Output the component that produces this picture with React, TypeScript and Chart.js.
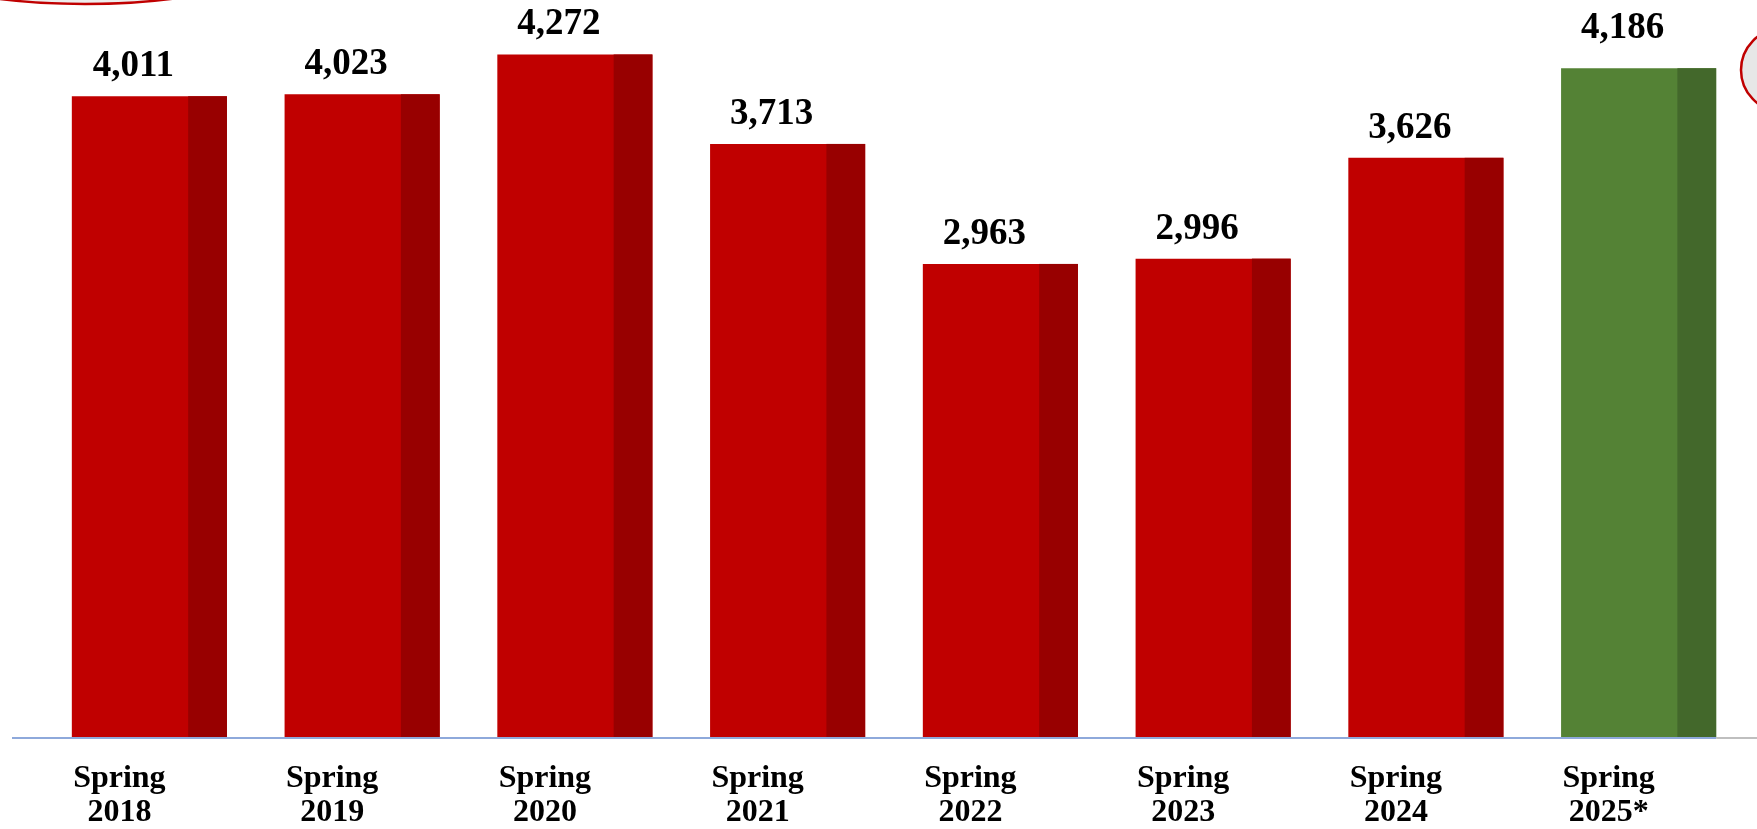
import React, { useEffect, useRef } from "react";
import { Chart, registerables } from "chart.js";

Chart.register(...registerables);

const term = "Spring";
const years = ["2018", "2019", "2020", "2021", "2022", "2023", "2024", "2025*"];
const values = [4011, 4023, 4272, 3713, 2963, 2996, 3626, 4186];
const projected = [false, false, false, false, false, false, false, true];

const FRONT_RED = "#C00000";
const SIDE_RED = "#980000";
const FRONT_GREEN = "#548235";
const SIDE_GREEN = "#43682B";
const FONT = '"Liberation Serif", "Times New Roman", serif';

const decorPlugin = {
  id: "decor",
  afterDatasetsDraw(chart: any) {
    const ctx = chart.ctx;
    const meta = chart.getDatasetMeta(0);
    const area = chart.chartArea;
    ctx.save();
    // darker side face on right quarter of each bar
    meta.data.forEach((bar: any, i: number) => {
      const left = bar.x - bar.width / 2;
      const sideW = bar.width * 0.25;
      ctx.fillStyle = projected[i] ? SIDE_GREEN : SIDE_RED;
      ctx.fillRect(left + bar.width - sideW, bar.y, sideW, bar.base - bar.y);
    });
    // baseline
    const last = meta.data[meta.data.length - 1];
    const lastRight = last.x + last.width / 2;
    ctx.lineWidth = 2;
    ctx.strokeStyle = "#8EA9DB";
    ctx.beginPath();
    ctx.moveTo(area.left - 31, area.bottom);
    ctx.lineTo(lastRight, area.bottom);
    ctx.stroke();
    ctx.strokeStyle = "#BFBFBF";
    ctx.beginPath();
    ctx.moveTo(lastRight, area.bottom);
    ctx.lineTo(chart.width, area.bottom);
    ctx.stroke();
    // value labels
    ctx.fillStyle = "#000";
    ctx.font = `bold 37px ${FONT}`;
    ctx.textAlign = "center";
    ctx.textBaseline = "alphabetic";
    meta.data.forEach((bar: any, i: number) => {
      const gap = projected[i] ? 30 : 20;
      ctx.fillText(values[i].toLocaleString("en-US"), bar.x - 16, bar.y - gap);
    });
    ctx.restore();
  },
  afterDraw(chart: any) {
    const ctx = chart.ctx;
    ctx.save();
    ctx.lineWidth = 2.5;
    ctx.strokeStyle = "#C00000";
    ctx.fillStyle = "#EDEDED";
    ctx.beginPath();
    ctx.ellipse(85, -50, 200, 54, 0, 0, Math.PI * 2);
    ctx.fill();
    ctx.stroke();
    ctx.beginPath();
    ctx.fillStyle = "#E7E7E7";
    ctx.ellipse(1781, 70, 40, 41, 0, 0, Math.PI * 2);
    ctx.fill();
    ctx.stroke();
    ctx.restore();
  },
};

export default function App() {
  const ref = useRef<HTMLCanvasElement | null>(null);
  useEffect(() => {
    if (!ref.current) return;
    const chart = new Chart(ref.current, {
      type: "bar",
      data: {
        labels: years.map((y) => [term, y]),
        datasets: [
          {
            data: values,
            backgroundColor: projected.map((p) => (p ? FRONT_GREEN : FRONT_RED)),
            borderWidth: 0,
            barPercentage: 0.729,
            categoryPercentage: 1,
          },
        ],
      },
      options: {
        animation: false,
        responsive: false,
        devicePixelRatio: 1,
        layout: { padding: { top: 2, left: 43, right: 12, bottom: 0 } },
        plugins: {
          legend: { display: false },
          tooltip: { enabled: false },
        },
        scales: {
          y: {
            display: false,
            min: 0,
            max: 4600,
          },
          x: {
            grid: { display: false },
            border: { display: false },
            ticks: {
              color: "#000",
              padding: 16,
              labelOffset: -30,
              maxRotation: 0,
              autoSkip: false,
              font: { family: FONT, size: 32, weight: "bold", lineHeight: 1.06 },
            },
            afterFit(scale: any) {
              scale.height = 91;
            },
          },
        },
      },
      plugins: [decorPlugin],
    });
    return () => chart.destroy();
  }, []);
  return (
    <div style={{ position: "absolute", left: 0, top: 0, width: 1757, height: 829, background: "#fff" }}>
      <canvas ref={ref} width={1757} height={829} style={{ display: "block" }} />
    </div>
  );
}
